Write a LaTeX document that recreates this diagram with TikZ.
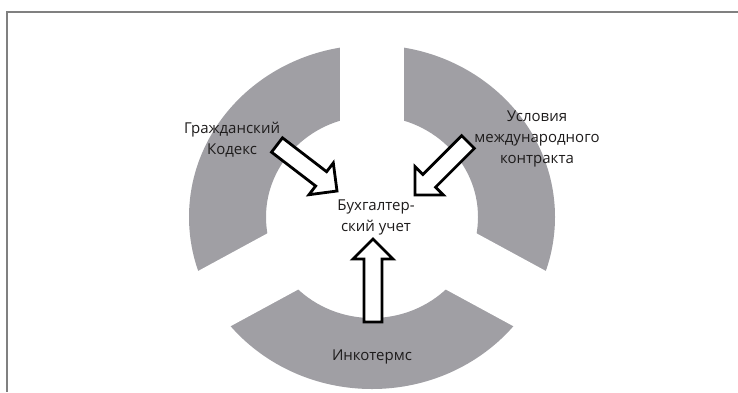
\documentclass[tikz,border=0pt]{standalone}
\usepackage{fontspec}
\setmainfont{Open Sans}
\usetikzlibrary{calc}

\definecolor{ringgray}{RGB}{160,159,164}
\definecolor{textgray}{RGB}{30,28,28}
\definecolor{framegray}{RGB}{128,128,128}

\tikzset{
    ringpart/.style = {fill = ringgray},
    gapband/.style = {fill = white},
    ringtext/.style = {align = center, inner sep = 0pt, text = textgray,
                       font = \fontsize{15}{21}\selectfont},
    arrowbody/.style = {draw = black, fill = white, line width = 2.8pt, line join = miter},
}

% block arrow from #1 (tail) to #2 (tip)
\newcommand{\blockarr}[2]{%
    \coordinate (#2h) at ($(#2)!20pt!(#1)$);
    \draw[arrowbody] ($(#1)!9pt!90:(#2)$) -- ($(#2h)!9pt!90:(#2)$) -- ($(#2h)!20pt!90:(#2)$)
        -- (#2) -- ($(#2h)!20pt!-90:(#2)$) -- ($(#2h)!9pt!-90:(#2)$) -- ($(#1)!9pt!-90:(#2)$) -- cycle;
}

\begin{document}
\begin{tikzpicture}[x = 1pt, y = -1pt]
                        \useasboundingbox (0,0) rectangle (738,392);

                        % ring and the three gaps
                        \fill[ringpart, even odd rule] (372,217) ellipse [x radius = 183, y radius = 172]
                                                      (372,217) ellipse [x radius = 106, y radius = 101];
                        \foreach \ang in {90, 208.5, 331.5}
                                \fill[gapband, shift = {(372,213)}, rotate = \ang] (0,-32) rectangle (230,32);

                        % frame
                        \draw[framegray, line width = 1.3pt] (738,12) -- (7,12) -- (7,392);

                        % texts
                        \node[ringtext] (gk) at (232,139.5) {Гражданский\\Кодекс};
                        \node[ringtext] (usl) at (537,139) {Условия\\международного\\контракта};
                        \node[ringtext] (buh) at (376,217) {Бухгалтер-\\ский учет};
                        \node[ringtext] (inco) at (372,357) {Инкотермс};

                        % arrows
                        \coordinate (gkTail) at (277,145);
                        \coordinate (gkTip) at (337,191);
                        \coordinate (uslTail) at (468,142);
                        \coordinate (uslTip) at (415,195);
                        \coordinate (incoTail) at (373,322);
                        \coordinate (incoTip) at (373,239);
                        \blockarr{gkTail}{gkTip}
                        \blockarr{uslTail}{uslTip}
                        \blockarr{incoTail}{incoTip}
\end{tikzpicture}
\end{document}
